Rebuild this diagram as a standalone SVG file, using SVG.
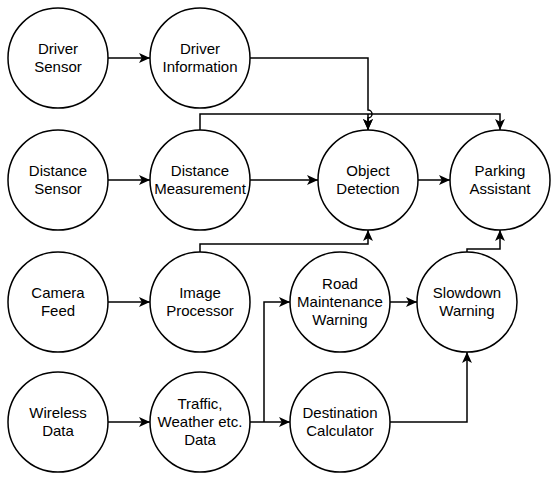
<svg xmlns="http://www.w3.org/2000/svg" width="556" height="478" viewBox="0 0 556 478">
<defs>
<marker id="arr" viewBox="0 0 10 10" refX="10" refY="5" markerWidth="11" markerHeight="11" markerUnits="userSpaceOnUse" orient="auto">
<path d="M0,0.5 L10,5 L0,9.5 L2.5,5 z" fill="#000"/>
</marker>
<style>
.n{fill:#fff;stroke:#000;stroke-width:1.5}
.t{font-family:"Liberation Sans",Arial,sans-serif;font-size:15px;text-anchor:middle;fill:#000}
.c{fill:none;stroke:#000;stroke-width:1.5}
</style>
</defs>
<rect width="556" height="478" fill="#fff"/>
<g id="connectors">
<path class="c" d="M108,58 H150" marker-end="url(#arr)"/>
<path class="c" d="M250,58 H368 V110 A4,4 0 0 1 368,118 V130" marker-end="url(#arr)"/>
<path class="c" d="M200,130 V114 H500 V130" marker-end="url(#arr)"/>
<path class="c" d="M368,114 V130" marker-end="url(#arr)"/>
<path class="c" d="M108,180 H150" marker-end="url(#arr)"/>
<path class="c" d="M250,180 H318" marker-end="url(#arr)"/>
<path class="c" d="M418,180 H450" marker-end="url(#arr)"/>
<path class="c" d="M200,252 V244 H368 V230" marker-end="url(#arr)"/>
<path class="c" d="M108,302 H150" marker-end="url(#arr)"/>
<path class="c" d="M108,422 H150" marker-end="url(#arr)"/>
<path class="c" d="M250,422 H290" marker-end="url(#arr)"/>
<path class="c" d="M264,422 V302 H290" marker-end="url(#arr)"/>
<path class="c" d="M390,302 H417" marker-end="url(#arr)"/>
<path class="c" d="M390,422 H467 V352" marker-end="url(#arr)"/>
<path class="c" d="M467,252 V249 H500 V230" marker-end="url(#arr)"/>
</g>
<g id="driver-sensor"><circle class="n" cx="58" cy="58" r="50"/><text class="t" x="58" y="54">Driver</text><text class="t" x="58" y="72">Sensor</text></g>
<g id="driver-information"><circle class="n" cx="200" cy="58" r="50"/><text class="t" x="200" y="54">Driver</text><text class="t" x="200" y="72">Information</text></g>
<g id="distance-sensor"><circle class="n" cx="58" cy="180" r="50"/><text class="t" x="58" y="176">Distance</text><text class="t" x="58" y="194">Sensor</text></g>
<g id="distance-measurement"><circle class="n" cx="200" cy="180" r="50"/><text class="t" x="200" y="176">Distance</text><text class="t" x="200" y="194">Measurement</text></g>
<g id="object-detection"><circle class="n" cx="368" cy="180" r="50"/><text class="t" x="368" y="176">Object</text><text class="t" x="368" y="194">Detection</text></g>
<g id="parking-assistant"><circle class="n" cx="500" cy="180" r="50"/><text class="t" x="500" y="176">Parking</text><text class="t" x="500" y="194">Assistant</text></g>
<g id="camera-feed"><circle class="n" cx="58" cy="302" r="50"/><text class="t" x="58" y="298">Camera</text><text class="t" x="58" y="316">Feed</text></g>
<g id="image-processor"><circle class="n" cx="200" cy="302" r="50"/><text class="t" x="200" y="298">Image</text><text class="t" x="200" y="316">Processor</text></g>
<g id="road-maintenance-warning"><circle class="n" cx="340" cy="302" r="50"/><text class="t" x="340" y="289">Road</text><text class="t" x="340" y="307">Maintenance</text><text class="t" x="340" y="325">Warning</text></g>
<g id="slowdown-warning"><circle class="n" cx="467" cy="302" r="50"/><text class="t" x="467" y="298">Slowdown</text><text class="t" x="467" y="316">Warning</text></g>
<g id="wireless-data"><circle class="n" cx="58" cy="422" r="50"/><text class="t" x="58" y="418">Wireless</text><text class="t" x="58" y="436">Data</text></g>
<g id="traffic-weather-data"><circle class="n" cx="200" cy="422" r="50"/><text class="t" x="200" y="409">Traffic,</text><text class="t" x="200" y="427">Weather etc.</text><text class="t" x="200" y="445">Data</text></g>
<g id="destination-calculator"><circle class="n" cx="340" cy="422" r="50"/><text class="t" x="340" y="418">Destination</text><text class="t" x="340" y="436">Calculator</text></g>
</svg>
